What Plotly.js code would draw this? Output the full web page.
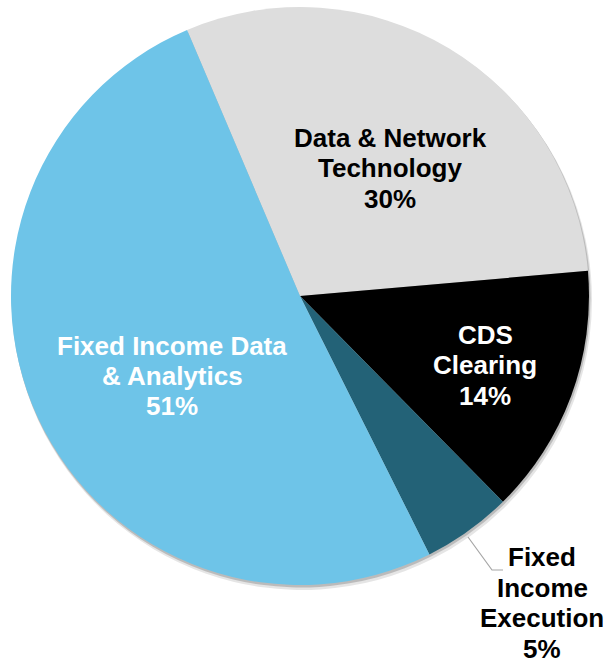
<!DOCTYPE html>
<html>
<head>
<meta charset="utf-8">
<script src="https://cdn.plot.ly/plotly-3.0.1.min.js"></script>
<style>html,body{margin:0;padding:0;background:#fff;}#chart{width:606px;height:664px;}</style>
</head>
<body>
<div id="chart"></div>
<script>
const segments = ['Data & Network Technology', 'CDS Clearing', 'Fixed Income Execution', 'Fixed Income Data & Analytics'];
const labelLines = [['Data & Network', 'Technology'], ['CDS', 'Clearing'], ['Fixed', 'Income', 'Execution'], ['Fixed Income Data', '& Analytics']];
const shares = [30, 14, 5, 51];
const sliceColors = ['#DDDDDD', '#000000', '#236277', '#6EC4E8'];
const labelColors = ['#000000', '#FFFFFF', '#000000', '#FFFFFF'];
const labelCenters = [[390, 168], [485, 365], [542, 603], [172, 376]];

const W = 606, H = 664;
const cx = 300, cy = 296, r = 289;
const FONT = 'Liberation Sans, Arial, sans-serif';
const FS = 26, LINE = 30.5;

function dom(ox, oy, rr) {
  return {x: [(cx + ox - rr) / W, (cx + ox + rr) / W], y: [1 - (cy + oy + rr) / H, 1 - (cy + oy - rr) / H]};
}

const shadowLayers = [[2, 4, 1, 'rgba(0,0,0,0.10)'], [1, 2, 0.5, 'rgba(0,0,0,0.18)']].map(s => ({
  type: 'pie', labels: segments, values: shares, sort: false, direction: 'clockwise', rotation: -23,
  marker: {colors: shares.map(() => s[3]), line: {width: 0}},
  textinfo: 'none', hoverinfo: 'skip', showlegend: false,
  domain: dom(s[0], s[1], r + s[2])
}));

const trace = {
  type: 'pie',
  labels: segments,
  values: shares,
  sort: false,
  direction: 'clockwise',
  rotation: -23,
  marker: {colors: sliceColors, line: {width: 0}},
  textinfo: 'none',
  hoverinfo: 'label+percent',
  showlegend: false,
  domain: dom(0, 0, r)
};

const annotations = [];
segments.forEach((s, i) => {
  const lines = labelLines[i].concat([shares[i] + '%']);
  const n = lines.length;
  lines.forEach((t, k) => {
    const y = labelCenters[i][1] + (k - (n - 1) / 2) * LINE;
    annotations.push({
      xref: 'paper', yref: 'paper',
      x: labelCenters[i][0] / W, y: 1 - y / H,
      xanchor: 'center', yanchor: 'middle',
      showarrow: false,
      text: '<b>' + t + '</b>',
      font: {family: FONT, size: FS, color: labelColors[i]}
    });
  });
});

const p = (x, y) => (x / W) + ',' + (1 - y / H);
const layout = {
  width: W, height: H,
  margin: {l: 0, r: 0, t: 0, b: 0},
  paper_bgcolor: '#fff',
  plot_bgcolor: '#fff',
  annotations: annotations,
  shapes: [{
    type: 'path', xref: 'paper', yref: 'paper',
    path: 'M' + p(468, 537) + 'L' + p(492, 570) + 'L' + p(503, 570),
    line: {color: '#A6A6A6', width: 1.2}
  }]
};

Plotly.newPlot('chart', shadowLayers.concat([trace]), layout, {displayModeBar: false, staticPlot: true});
</script>
</body>
</html>
